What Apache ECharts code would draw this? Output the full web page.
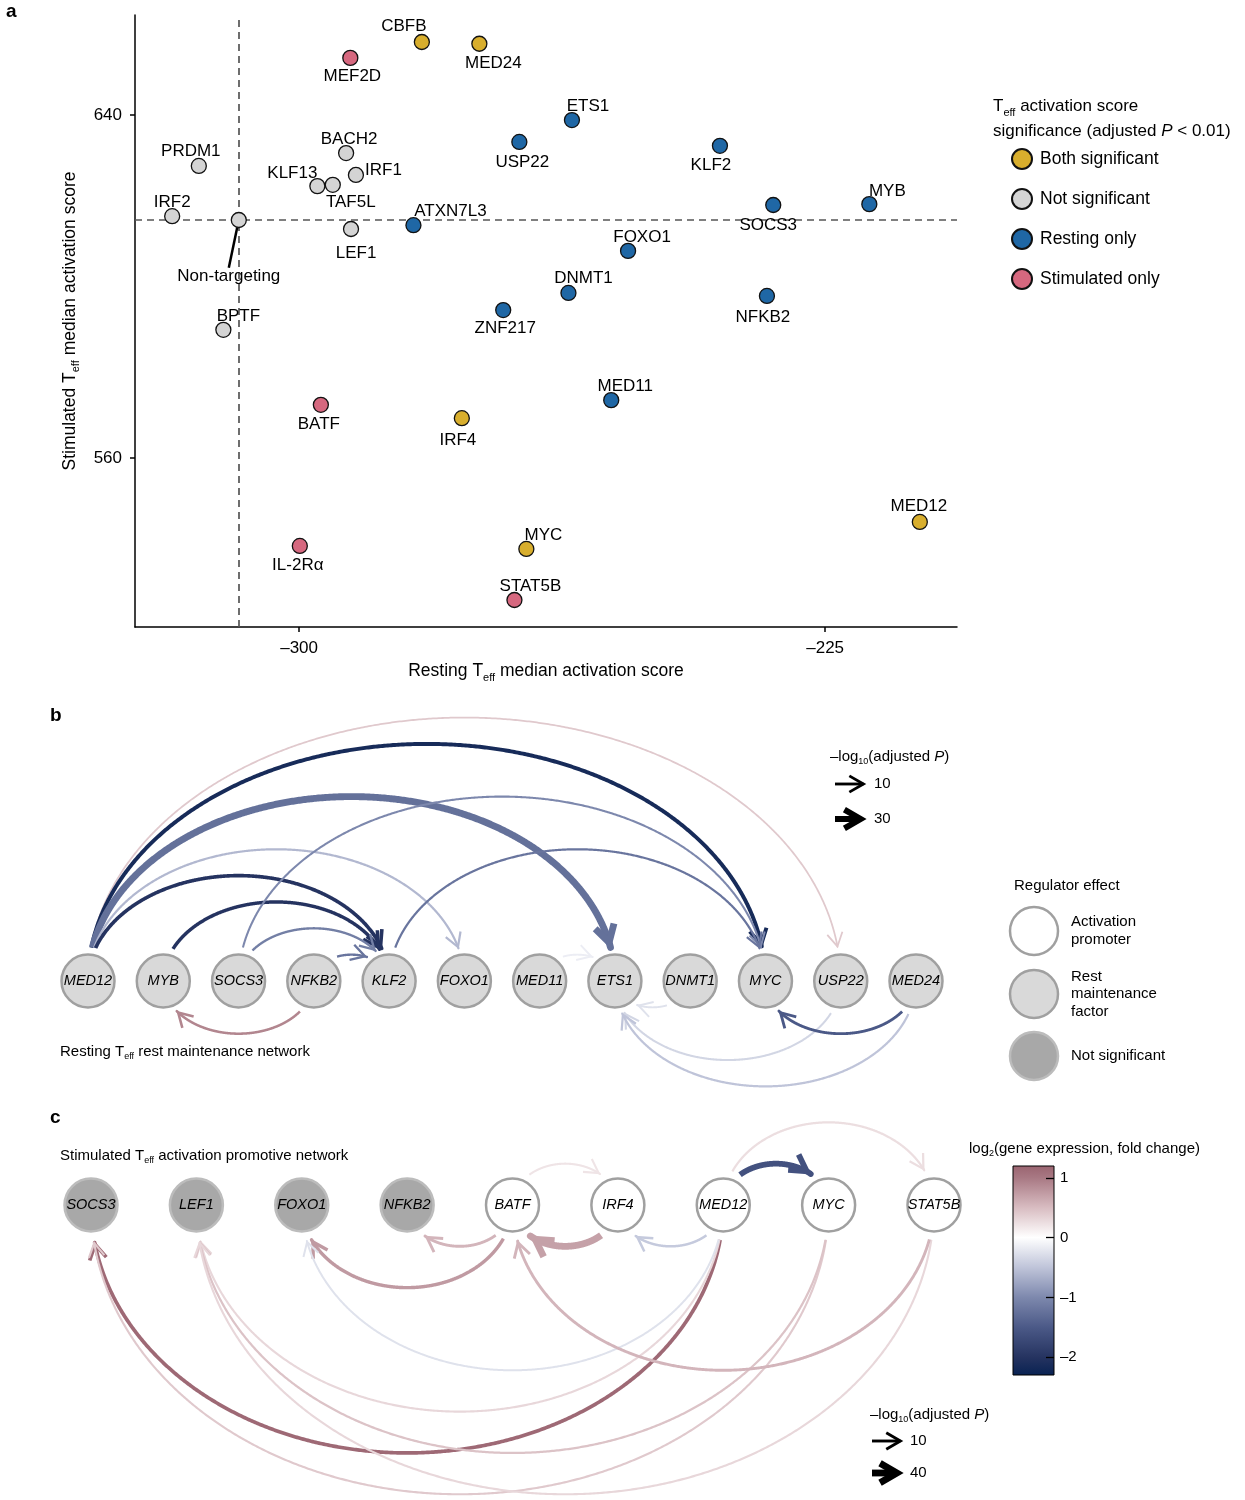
<!DOCTYPE html>
<html><head><meta charset="utf-8">
<script src="https://cdn.jsdelivr.net/npm/echarts@6/dist/echarts.min.js"></script>
<style>html,body{margin:0;padding:0;background:#fff}#c{width:1245px;height:1500px}</style>
</head><body><div id="c"></div><script>
const FONT = "'Liberation Sans', Arial, Helvetica, sans-serif";

// ---------------- Panel a data ----------------
const aGenes = ['CBFB','MED24','MEF2D','ETS1','USP22','KLF2','PRDM1','BACH2','IRF1','KLF13','TAF5L','IRF2','Non-targeting','LEF1','ATXN7L3','SOCS3','MYB','FOXO1','DNMT1','ZNF217','NFKB2','BPTF','MED11','BATF','IRF4','MED12','MYC','IL-2R\u03b1','STAT5B'];
const aResting = [-282.5,-274.3,-292.7,-261.1,-268.6,-240.0,-314.3,-293.3,-291.9,-297.4,-295.2,-318.1,-308.6,-292.6,-283.7,-232.4,-218.7,-253.1,-261.6,-270.9,-233.3,-310.8,-255.5,-296.9,-276.8,-211.5,-267.6,-299.9,-269.3];
const aStimulated = [657.0,656.6,653.3,638.8,633.7,632.8,628.1,631.1,626.0,623.4,623.7,616.4,615.5,613.4,614.3,619.0,619.2,608.3,598.5,594.5,597.8,589.9,573.5,572.4,569.3,545.1,538.8,539.5,526.9];
const aGroup = ['Both significant','Both significant','Stimulated only','Resting only','Resting only','Resting only','Not significant','Not significant','Not significant','Not significant','Not significant','Not significant','Not significant','Not significant','Resting only','Resting only','Resting only','Resting only','Resting only','Resting only','Resting only','Not significant','Resting only','Stimulated only','Both significant','Both significant','Both significant','Stimulated only','Stimulated only'];
const aGroups = ['Both significant','Not significant','Resting only','Stimulated only'];
const aXTicks = [-300,-225];
const aYTicks = [560,640];

// ---------------- Panel b data ----------------
const bNodes = ['MED12','MYB','SOCS3','NFKB2','KLF2','FOXO1','MED11','ETS1','DNMT1','MYC','USP22','MED24'];
const bEffect = ['rest','rest','rest','rest','rest','rest','rest','rest','rest','rest','rest','rest'];
const bSource = ['MED12','MED12','MED12','MED12','MED12','MYB','SOCS3','SOCS3','KLF2','NFKB2','NFKB2','MED11','DNMT1','USP22','MED24','MED24'];
const bTarget = ['USP22','MYC','ETS1','FOXO1','KLF2','KLF2','KLF2','MYC','MYC','KLF2','MYB','ETS1','ETS1','ETS1','ETS1','MYC'];
const bLog2FC = [0.4,-2.15,-1.25,-0.6,-2.0,-2.0,-1.1,-1.0,-1.2,-1.2,0.9,-0.15,-0.25,-0.35,-0.5,-1.5];
const bNegLogP = [3,17,36,6,15,14,7,5,6,7,8,4,4,5,6,10];
const bLegendP = [10,30];

// ---------------- Panel c data ----------------
const cNodes = ['SOCS3','LEF1','FOXO1','NFKB2','BATF','IRF4','MED12','MYC','STAT5B'];
const cEffect = ['ns','ns','ns','ns','act','act','act','act','act'];
const cSource = ['MED12','MYC','MED12','MYC','STAT5B','BATF','MED12','BATF','BATF','IRF4','MED12','STAT5B','MED12','MED12'];
const cTarget = ['SOCS3','SOCS3','LEF1','LEF1','LEF1','FOXO1','FOXO1','NFKB2','IRF4','BATF','IRF4','BATF','MYC','STAT5B'];
const cLog2FC = [1.15,0.4,0.3,0.45,0.3,0.75,-0.25,0.55,0.2,0.7,-0.45,0.55,-1.6,0.25];
const cNegLogP = [16,4,4,5,4,14,3,10,4,40,7,10,32,5];
const cLegendP = [10,40];

// colour bar
const cbMin = -2.3, cbMax = 1.2;
const cbTicks = [1,0,-1,-2];
const cmapVals = [-2.3,-2,-1.5,-1,-0.5,0,0.5,1,1.2];
const cmapCols = ['#082252','#253360','#4b5987','#7d88ad','#bfc4d9','#ffffff','#d8bcc1','#a87883','#9a6470'];

// ---------------- styles ----------------
const groupColor = {'Both significant':'#d8ae2d','Not significant':'#d4d4d4','Resting only':'#1f67a5','Stimulated only':'#d6687f'};
// label placement: [position, dx, dy]
const aLabelPlace = {
 'CBFB':['top',-18,-2],'MED24':['bottom',14,-2],'MEF2D':['bottom',2,-3],'ETS1':['top',16,0],'USP22':['bottom',3,-1],'KLF2':['bottom',-9,-2],
 'PRDM1':['top',-8,-1],'BACH2':['top',3,0],'IRF1':['right',0,-5],'KLF13':['top',-25,1],'TAF5L':['bottom',18,-4],'IRF2':['top',0,0],
 'Non-targeting':['bottom',-10,35],'LEF1':['bottom',5,3],'ATXN7L3':['top',37,0],'SOCS3':['bottom',-5,-1],'MYB':['top',18,1],'FOXO1':['top',14,1],
 'DNMT1':['top',15,0],'ZNF217':['bottom',2,-3],'NFKB2':['bottom',-4,0],'BPTF':['top',15,1],'MED11':['top',14,0],'BATF':['bottom',-2,-2],
 'IRF4':['bottom',-4,1],'MED12':['top',-1,-1],'MYC':['top',17,1],'IL-2R\u03b1':['bottom',-2,-2],'STAT5B':['top',16,0]
};
const nodeStyle = {
  rest:{color:'#d9d9d9',borderColor:'#a0a0a0'},
  act:{color:'#ffffff',borderColor:'#a0a0a0'},
  ns:{color:'#a8a8a8',borderColor:'#bcbcbc'}
};
const NODE_SIZE = 53;
const bWidth = p => 1.3 + 0.155 * p;
const cWidth = p => 1.6 + 0.13 * p;

function hex2rgb(h){return [parseInt(h.slice(1,3),16),parseInt(h.slice(3,5),16),parseInt(h.slice(5,7),16)];}
function fcColor(v){
  v = Math.max(cbMin, Math.min(cbMax, v));
  for (let i=0;i<cmapVals.length-1;i++){
    if (v <= cmapVals[i+1]){
      const t=(v-cmapVals[i])/(cmapVals[i+1]-cmapVals[i]);
      const a=hex2rgb(cmapCols[i]), b=hex2rgb(cmapCols[i+1]);
      return 'rgb('+a.map((x,j)=>Math.round(x+(b[j]-x)*t)).join(',')+')';
    }
  }
  return cmapCols[cmapCols.length-1];
}

// ---------------- panel a series ----------------
const ntIdx = aGenes.indexOf('Non-targeting');
const aSeries = aGroups.map((g) => {
  const data = [];
  aGenes.forEach((name, i) => {
    if (aGroup[i] !== g) return;
    const lp = aLabelPlace[name];
    const item = {name, value:[aResting[i], aStimulated[i]], label:{position:lp[0]}};
    if (i === ntIdx) item.labelLine = {show:true, lineStyle:{color:'#000', width:2.5}};
    data.push(item);
  });
  const s = {
    type:'scatter', name:g, xAxisIndex:0, yAxisIndex:0, symbolSize:15, z:5,
    itemStyle:{color:groupColor[g], borderColor:'#111', borderWidth:1.3, opacity:1},
    label:{show:true, formatter:'{b}', fontSize:17, color:'#000', fontFamily:FONT, distance:1},
    labelLayout: function(p){
      const lp = aLabelPlace[p.text];
      if (!lp) return {};
      return {dx:lp[1], dy:lp[2] + (lp[0] === 'right' ? 0 : 3.5)};
    },
    labelLine:{show:false},
    emphasis:{disabled:true},
    data
  };
  if (g === 'Not significant') {
    s.markLine = {
      silent:true, symbol:['none','none'], label:{show:false}, animation:false,
      lineStyle:{type:[7,5], color:'#555', width:1.7},
      data:[{xAxis:aResting[ntIdx]},{yAxis:aStimulated[ntIdx]}]
    };
  }
  return s;
});

// ---------------- networks ----------------
function makeNodes(nodes, effect, axisIdx){
  return {
    type:'scatter', xAxisIndex:axisIdx, yAxisIndex:axisIdx, symbolSize:NODE_SIZE, z:4, silent:true,
    emphasis:{disabled:true},
    label:{show:true, position:'inside', formatter:'{b}', fontStyle:'italic', fontSize:14.5, color:'#000', fontFamily:FONT},
    data: nodes.map((n,i)=>({name:n, value:[i,0], itemStyle:Object.assign({borderWidth:2.5, opacity:1}, nodeStyle[effect[i]])}))
  };
}
function makeEdges(nodes, src, tgt, fc, p, widthFn, axisIdx, startGap, endGap){
  const data = src.map((s,k)=>[nodes.indexOf(s), nodes.indexOf(tgt[k]), fc[k], p[k]]);
  const R = NODE_SIZE/2;
  return {
    type:'custom', coordinateSystem:'cartesian2d', xAxisIndex:axisIdx, yAxisIndex:axisIdx, z:2, silent:true, clip:false,
    data,
    renderItem:(params, api)=>{
      const i0 = api.value(0), i1 = api.value(1), v = api.value(2), pv = api.value(3);
      const w = widthFn(pv), col = fcColor(v);
      const c = (i0+i1)/2, r = Math.abs(i1-i0)/2, dir = i1 > i0 ? 1 : -1;
      const p0 = api.coord([i0,0]), p1 = api.coord([i1,0]);
      const N = 600, pts = [];
      for (let k=0;k<=N;k++){
        const t = Math.PI*k/N;
        const q = api.coord([c + (i0-c)*Math.cos(t), dir*r*Math.sin(t)]);
        if (Math.hypot(q[0]-p0[0], q[1]-p0[1]) >= R + startGap && Math.hypot(q[0]-p1[0], q[1]-p1[1]) >= R + endGap) pts.push(q);
      }
      if (pts.length < 7) return null;
      const tip0 = pts[pts.length-1], prev = pts[pts.length-6];
      const ang = Math.atan2(tip0[1]-prev[1], tip0[0]-prev[0]);
      const tip = [tip0[0] - Math.cos(ang)*w*0.9, tip0[1] - Math.sin(ang)*w*0.9];
      const L = 14 + w*0.8, half = Math.PI/6;
      const a1 = [tip[0] - L*Math.cos(ang-half), tip[1] - L*Math.sin(ang-half)];
      const a2 = [tip[0] - L*Math.cos(ang+half), tip[1] - L*Math.sin(ang+half)];
      const line = pts.slice(0, pts.length-1);
      line.push(tip);
      return {type:'group', children:[
        {type:'polyline', shape:{points:line}, style:{stroke:col, lineWidth:w, fill:null, lineCap:'butt', lineJoin:'round'}},
        {type:'polyline', shape:{points:[a1, tip, a2]}, style:{stroke:col, lineWidth:w, fill:null, lineJoin:'miter', miterLimit:10, lineCap:'butt'}}
      ]};
    }
  };
}

// colour bar series
const cbStops = cmapVals.map((v,i)=>({offset:(cbMax - v)/(cbMax - cbMin), color:cmapCols[i]})).sort((a,b)=>a.offset-b.offset);
const cbSeries = {
  type:'custom', xAxisIndex:3, yAxisIndex:3, z:1, silent:true, data:[[0]],
  renderItem:(params, api)=>{
    const top = api.coord([0, cbMax]), bot = api.coord([0, cbMin]);
    const cs = params.coordSys;
    return {type:'rect', shape:{x:cs.x, y:top[1], width:cs.width, height:bot[1]-top[1]},
      style:{fill:new echarts.graphic.LinearGradient(0,0,0,1,cbStops), stroke:'#000', lineWidth:1}};
  }
};

// ---------------- graphics ----------------
function rich(size, lh){
  return {
    a:{fontSize:size, fontFamily:FONT, color:'#000', lineHeight:lh, verticalAlign:'middle'},
    s:{fontSize:Math.round(size*0.62), fontFamily:FONT, color:'#000', lineHeight:lh, verticalAlign:'bottom', padding:[0,0,1,0]},
    i:{fontSize:size, fontFamily:FONT, color:'#000', fontStyle:'italic', lineHeight:lh, verticalAlign:'middle'}
  };
}
function txt(x, y, text, size, opts){
  return {type:'text', x, y, silent:true, style:Object.assign({text, fontSize:size, fontFamily:FONT, fill:'#000', verticalAlign:'middle'}, (opts||{}))};
}
function richTxt(x, y, text, r){
  return {type:'text', x, y, silent:true, style:{text, rich:r, verticalAlign:'middle', fontFamily:FONT}};
}
function legendArrow(x1, x2, y, w){
  const L = 14 + w*0.8, half = Math.PI/6;
  const tip = x2 - w*0.9;
  return [
    {type:'line', silent:true, shape:{x1, y1:y, x2:tip, y2:y}, style:{stroke:'#000', lineWidth:w}},
    {type:'polyline', silent:true, shape:{points:[[tip-L*Math.cos(half), y-L*Math.sin(half)],[tip,y],[tip-L*Math.cos(half), y+L*Math.sin(half)]]}, style:{stroke:'#000', lineWidth:w, fill:null, lineJoin:'miter', miterLimit:10}}
  ];
}
const R17 = rich(17, 25), R15 = rich(15, 20);
const graphics = [
  txt(6, 12, 'a', 19, {fontWeight:'bold'}),
  txt(50, 716, 'b', 19, {fontWeight:'bold'}),
  txt(50, 1118, 'c', 19, {fontWeight:'bold'}),
  richTxt(993, 119, '{a|T}{s|eff}{a| activation score}\n{a|significance (adjusted }{i|P}{a| < 0.01)}', R17),
  richTxt(60, 1052, '{a|Resting T}{s|eff}{a| rest maintenance network}', R15),
  richTxt(60, 1156, '{a|Stimulated T}{s|eff}{a| activation promotive network}', R15),
  richTxt(830, 757, '{a|\u2013log}{s|10}{a|(adjusted }{i|P}{a|)}', R15),
  richTxt(870, 1415, '{a|\u2013log}{s|10}{a|(adjusted }{i|P}{a|)}', R15),
  richTxt(969, 1149, '{a|log}{s|2}{a|(gene expression, fold change)}', R15),
  txt(874, 784, String(bLegendP[0]), 15), txt(874, 819, String(bLegendP[1]), 15),
  txt(910, 1441, String(cLegendP[0]), 15), txt(910, 1473, String(cLegendP[1]), 15),
  ...legendArrow(835, 866, 784, bWidth(bLegendP[0])),
  ...legendArrow(835, 866, 819, bWidth(bLegendP[1])),
  ...legendArrow(872, 903, 1441, cWidth(cLegendP[0])),
  ...legendArrow(872, 903, 1473, cWidth(cLegendP[1])),
  txt(1014, 886, 'Regulator effect', 15),
  {type:'circle', silent:true, shape:{cx:1034, cy:931, r:24}, style:{lineWidth:2.5, fill:nodeStyle.act.color, stroke:nodeStyle.act.borderColor}},
  {type:'circle', silent:true, shape:{cx:1034, cy:994, r:24}, style:{lineWidth:2.5, fill:nodeStyle.rest.color, stroke:nodeStyle.rest.borderColor}},
  {type:'circle', silent:true, shape:{cx:1034, cy:1056, r:24}, style:{lineWidth:2.5, fill:nodeStyle.ns.color, stroke:nodeStyle.ns.borderColor}},
  txt(1071, 931, 'Activation\npromoter', 15, {lineHeight:18}),
  txt(1071, 994, 'Rest\nmaintenance\nfactor', 15, {lineHeight:17.5}),
  txt(1071, 1056, 'Not significant', 15)
];

const hidden = {show:false};
const option = {
  animation:false,
  backgroundColor:'#fff',
  textStyle:{fontFamily:FONT},
  legend:{
    data:aGroups, orient:'vertical', left:1011, top:148, padding:0, icon:'circle', itemWidth:20, itemHeight:20, itemGap:18,
    textStyle:{fontSize:17.5, color:'#000', fontFamily:FONT, padding:[0,0,0,3]}, selectedMode:false
  },
  grid:[
    {left:135, top:15, right:288, bottom:873},
    {left:88, right:329, top:931, height:100},
    {left:91, right:311, top:1155, height:100},
    {left:1013, top:1166, width:41, height:209}
  ],
  xAxis:[
    {gridIndex:0, type:'value', min:-323.4, max:-206.2,
     name:'{a|Resting T}{s|eff}{a| median activation score}', nameLocation:'middle', nameGap:32,
     nameTextStyle:{rich:rich(17.5, 25)},
     axisLine:{show:true, onZero:false, lineStyle:{color:'#000', width:1.5}},
     axisTick:{show:true, customValues:aXTicks, length:5, lineStyle:{color:'#000', width:1.5}},
     axisLabel:{customValues:aXTicks, margin:13, fontSize:17, color:'#000', fontFamily:FONT, formatter:v=>String(v).replace('-','\u2013')},
     splitLine:hidden},
    // network axes: x unit = node spacing; y scale chosen so arcs are semicircles in data space
    {gridIndex:1, type:'value', min:0, max:bNodes.length-1, show:false},
    {gridIndex:2, type:'value', min:0, max:cNodes.length-1, show:false},
    {gridIndex:3, type:'value', min:0, max:1, show:false}
  ],
  yAxis:[
    {gridIndex:0, type:'value', min:520.6, max:663.3,
     name:'{a|Stimulated T}{s|eff}{a| median activation score}', nameLocation:'middle', nameGap:50,
     nameTextStyle:{rich:rich(17.5, 25)},
     axisLine:{show:true, onZero:false, lineStyle:{color:'#000', width:1.5}},
     axisTick:{show:true, customValues:aYTicks, length:5, lineStyle:{color:'#000', width:1.5}},
     axisLabel:{customValues:aYTicks, margin:13, fontSize:17, color:'#000', fontFamily:FONT},
     splitLine:hidden},
    {gridIndex:1, type:'value', min:-0.949, max:0.949, show:false},
    {gridIndex:2, type:'value', min:-0.605, max:0.605, show:false},
    {gridIndex:3, type:'value', min:cbMin, max:cbMax, position:'right', z:10,
     axisLine:{show:false, onZero:false},
     axisTick:{show:true, inside:true, length:8, customValues:cbTicks, lineStyle:{color:'#000', width:1.3}},
     axisLabel:{customValues:cbTicks, margin:6, fontSize:15, color:'#000', fontFamily:FONT, formatter:v=>String(v).replace('-','\u2013')},
     splitLine:hidden}
  ],
  graphic:graphics,
  series:[...aSeries,
    makeEdges(bNodes,bSource,bTarget,bLog2FC,bNegLogP,bWidth,1,7,6),
    makeNodes(bNodes,bEffect,1),
    makeEdges(cNodes,cSource,cTarget,cLog2FC,cNegLogP,cWidth,2,8,9),
    makeNodes(cNodes,cEffect,2),
    cbSeries]
};
const chart = echarts.init(document.getElementById('c'), null, {renderer:'canvas'});
chart.setOption(option);
</script></body></html>
